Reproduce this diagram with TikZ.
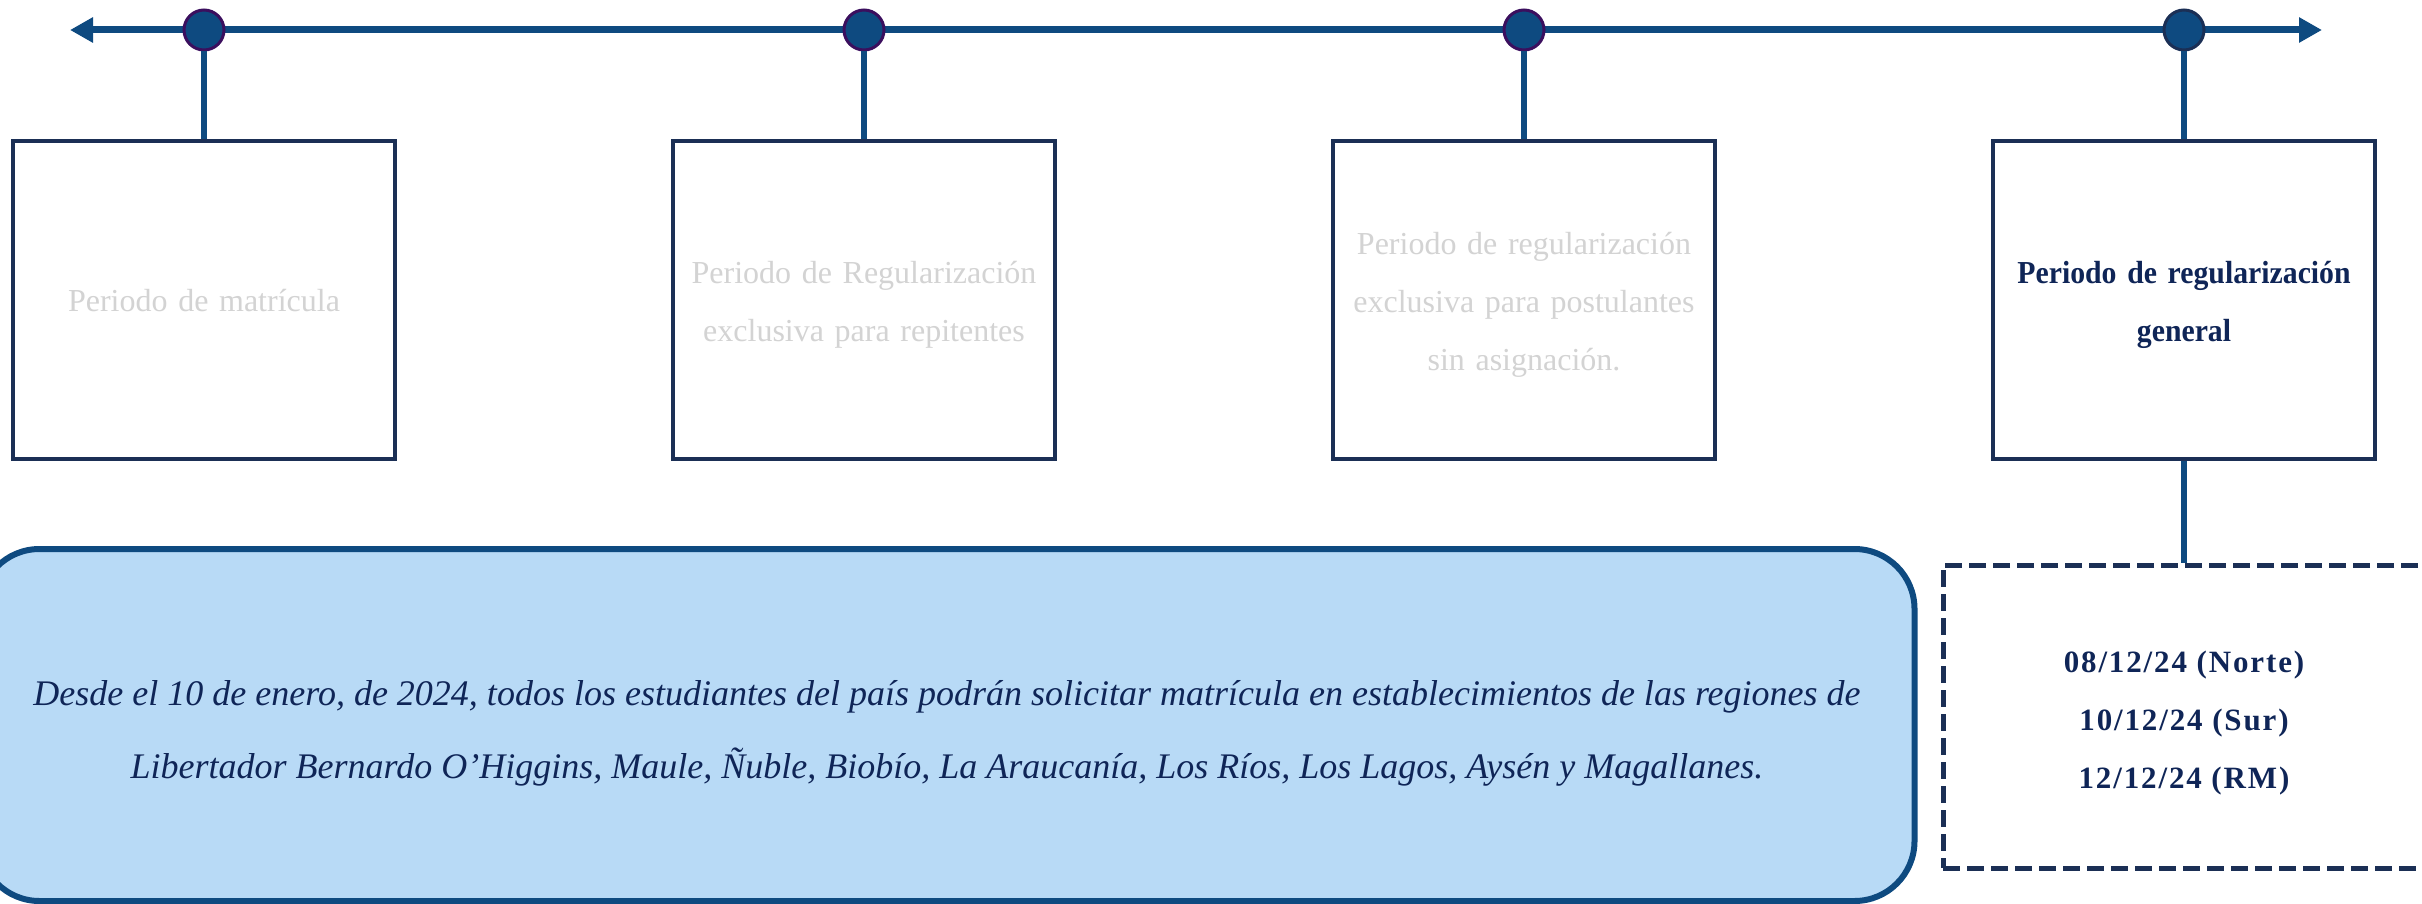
\documentclass[tikz,border=0pt]{standalone}
\usepackage{fontspec}
\setmainfont{Liberation Serif}
\newfontfamily\narrowserif[FakeStretch=0.93]{Liberation Serif}
\newfontfamily\wideserif[LetterSpace=6]{Liberation Serif}
\usetikzlibrary{arrows.meta, positioning, shapes}
\definecolor{lineblue}{HTML}{0E4A80}
\definecolor{boxnavy}{HTML}{1B2F55}
\definecolor{dotrim}{HTML}{3B0F5E}
\definecolor{textnavy}{HTML}{0F2557}
\definecolor{fadegray}{HTML}{D3D3D3}
\definecolor{notefill}{HTML}{B8DAF6}

\begin{document}
\begin{tikzpicture}[x=1pt, y=-1pt,
    axis/.style={lineblue, line width=7pt, {Triangle[length=23pt,width=24pt]}-{Triangle[length=23pt,width=24pt]}},
    dot/.style={circle, fill=lineblue, draw=dotrim, line width=3pt, minimum size=40pt, inner sep=0pt},
    stem/.style={lineblue, line width=6pt},
    period/.style={draw=boxnavy, line width=3.5pt, fill=white, minimum width=382pt, minimum height=318pt,
        text width=350pt, text height=32pt, align=center, text=fadegray, font=\fontsize{32}{58}\selectfont},
    note/.style={draw=lineblue, line width=6pt, fill=notefill, rounded corners=60pt, minimum width=1935pt,
        minimum height=352pt, text height=106pt, text depth=0pt, align=center, text=textnavy,
        font=\fontsize{36}{73}\selectfont\itshape},
    dates/.style={draw=boxnavy, line width=5pt, dash pattern=on 17pt off 7pt, minimum width=482pt,
        minimum height=303pt, text height=143pt, text depth=0pt, align=center, text=textnavy,
        font=\fontsize{31}{58}\selectfont\wideserif\bfseries}]
    \useasboundingbox (0,0) rectangle (2422,904);
    \clip (0,0) rectangle (2422,904);

    % Draw the timeline
    \coordinate (westend) at (70,30);
    \coordinate (eastend) at (2322,30);
    \draw[axis] (westend) -- (eastend);

    % Draw the periods hanging from the timeline
    \foreach \i/\x/\c in {1/204/dotrim, 2/864/dotrim, 3/1524/dotrim, 4/2184/boxnavy} {
        \node[dot, draw=\c] (d\i) at (\x,30) {};
    }
    \node[period, text height=23pt] (p1) at (204,300) {Periodo de matrícula};
    \node[period] (p2) at (864,300) {Periodo de Regularización\\exclusiva para repitentes};
    \node[period] (p3) at (1524,300) {Periodo de regularización\\exclusiva para postulantes\\sin asignación.};
    \node[period, text=textnavy, font=\fontsize{32}{58}\selectfont\narrowserif\bfseries] (p4) at (2184,300)
        {Periodo de regularización\\general};
    \foreach \i in {1,...,4} {
        \draw[stem] (d\i) -- (p\i);
    }

    % Dates by zone and the note
    \node[dates] (zones) at (2184,716.5) {08/12/24 (Norte)\\10/12/24 (Sur)\\12/12/24 (RM)};
    \draw[stem] (p4) -- (zones);
    \node[note] (info) at (947,725) {Desde el 10 de enero, de 2024, todos los estudiantes del país podrán solicitar matrícula en establecimientos de las regiones de\\
        Libertador Bernardo O’Higgins, Maule, Ñuble, Biobío, La Araucanía, Los Ríos, Los Lagos, Aysén y Magallanes.};
\end{tikzpicture}
\end{document}
